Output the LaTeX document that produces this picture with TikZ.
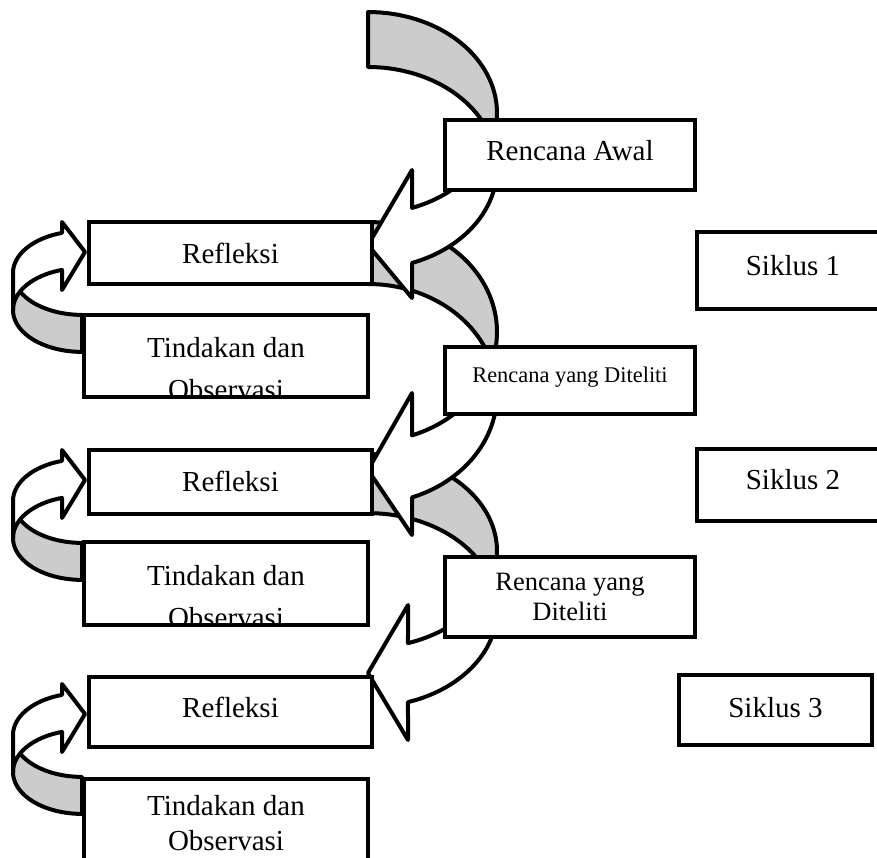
\documentclass[tikz,border=0pt]{standalone}
\usepackage{fontspec}
\setmainfont{Liberation Serif}
\definecolor{backgrey}{RGB}{204,204,204}
\newcommand{\boxfont}{\fontsize{29}{35}\selectfont}
\newcommand{\midboxfont}{\fontsize{26.5}{30}\selectfont}
\newcommand{\smallboxfont}{\fontsize{22.4}{27}\selectfont}
% big curved arrow, back half: E1 centre y, thickness, y radius
\newcommand{\rencanaback}[3]{%
  \filldraw[arrowline, fill=backgrey]
    plot[domain=-90:15, samples=40] ({368+129*cos(\x)},{#1+#3*sin(\x)})
    -- plot[domain=0:-90, samples=40] ({368+129*cos(\x)},{#1+#2+#3*sin(\x)}) -- cycle;}
% big curved arrow, front half with head
\newcommand{\rencanafront}[8]{%
  \filldraw[arrowline, fill=white]
    plot[domain=15:#4, samples=40] ({368+129*cos(\x)},{#1+#3*sin(\x)})
    -- (#5,#6) -- (368,#7) -- (#5,#8)
    -- plot[domain=#4:0, samples=40] ({368+129*cos(\x)},{#1+#2+#3*sin(\x)}) -- cycle;}
% small loop arrow on the left, row offset
\newcommand{\loopback}[1]{%
  \filldraw[arrowline, fill=backgrey]
    plot[domain=180:90, samples=30] ({82+69*cos(\x)},{#1+273+41.9*sin(\x)})
    -- plot[domain=90:180, samples=30] ({82+69*cos(\x)},{#1+310+41.9*sin(\x)}) -- cycle;}
\newcommand{\loopfront}[1]{%
  \filldraw[arrowline, fill=white]
    plot[domain=253.15:180, samples=30] ({82+69*cos(\x)},{#1+273+41.9*sin(\x)})
    -- plot[domain=180:253.15, samples=30] ({82+69*cos(\x)},{#1+310+41.9*sin(\x)})
    -- (62,#1+290) -- (85,#1+252) -- (62,#1+222) -- cycle;}

\begin{document}
\begin{tikzpicture}[x=1pt, y=-1pt,
    box/.style={draw, line width=4pt, fill=white, anchor=north west, inner sep=0pt, font=\boxfont},
    boxtext/.style={draw=none, fill=none, anchor=base, inner sep=0pt, font=\boxfont},
    arrowline/.style={line width=4pt, line join=round}]
    \useasboundingbox (0,0) rectangle (877,857);
    \clip (0,0) rectangle (877,857);

    % back halves of the arrows
    \rencanaback{113}{55}{101}
    \rencanaback{332}{62}{110}
    \rencanaback{551}{59}{96.9}
    \loopback{0}
    \loopback{228}
    \loopback{462}

    % front halves with heads
    \rencanafront{113}{55}{101}{70.05}{412}{170}{245}{298}
    \rencanafront{332}{62}{110}{70.05}{412}{393}{470}{535}
    \rencanafront{551}{59}{96.9}{71.94}{408}{605}{673}{740}
    \loopfront{0}
    \loopfront{228}
    \loopfront{462}

    % rencana
    \node[box, minimum width=250pt, text height=40pt, text depth=30pt] (awal) at (443,118) {Rencana Awal};
    \node[box, minimum width=250pt, text height=35pt, text depth=32pt, font=\smallboxfont] (teliti1) at (443,345) {Rencana yang Diteliti\hspace{10pt}};
    \node[box, minimum width=250pt, minimum height=80pt, align=center, font=\midboxfont] (teliti2) at (443,555) {Rencana yang\\Diteliti};

    % refleksi
    \node[box, minimum width=283pt, text height=41pt, text depth=21pt] (refl1) at (87,220) {Refleksi};
    \node[box, minimum width=283pt, text height=41pt, text depth=23pt] (refl2) at (87,448) {Refleksi};
    \node[box, minimum width=283pt, text height=40pt, text depth=30pt] (refl3) at (87,675) {Refleksi};

    % tindakan dan observasi
    \node[box, minimum width=284pt, minimum height=82pt, path picture={
        \node[boxtext] (tind1a) at ([yshift=-42pt]path picture bounding box.north) {Tindakan dan};
        \node[boxtext] (tind1b) at ([yshift=-84pt]path picture bounding box.north) {Observasi};}] (tind1) at (82,313) {};
    \node[box, minimum width=284pt, minimum height=83pt, path picture={
        \node[boxtext] (tind2a) at ([yshift=-43pt]path picture bounding box.north) {Tindakan dan};
        \node[boxtext] (tind2b) at ([yshift=-85pt]path picture bounding box.north) {Observasi};}] (tind2) at (82,540) {};
    \node[box, minimum width=284pt, minimum height=110pt, path picture={
        \node[boxtext] (tind3a) at ([yshift=-36pt]path picture bounding box.north) {Tindakan dan};
        \node[boxtext] (tind3b) at ([yshift=-71pt]path picture bounding box.north) {Observasi};}] (tind3) at (82,777) {};

    % siklus
    \node[box, minimum width=192pt, text height=43pt, text depth=34pt] (sik1) at (695,230) {Siklus 1};
    \node[box, minimum width=192pt, text height=40pt, text depth=32pt] (sik2) at (695,447) {Siklus 2};
    \node[box, minimum width=193pt, text height=42pt, text depth=28pt] (sik3) at (677,673) {Siklus 3};
\end{tikzpicture}
\end{document}
